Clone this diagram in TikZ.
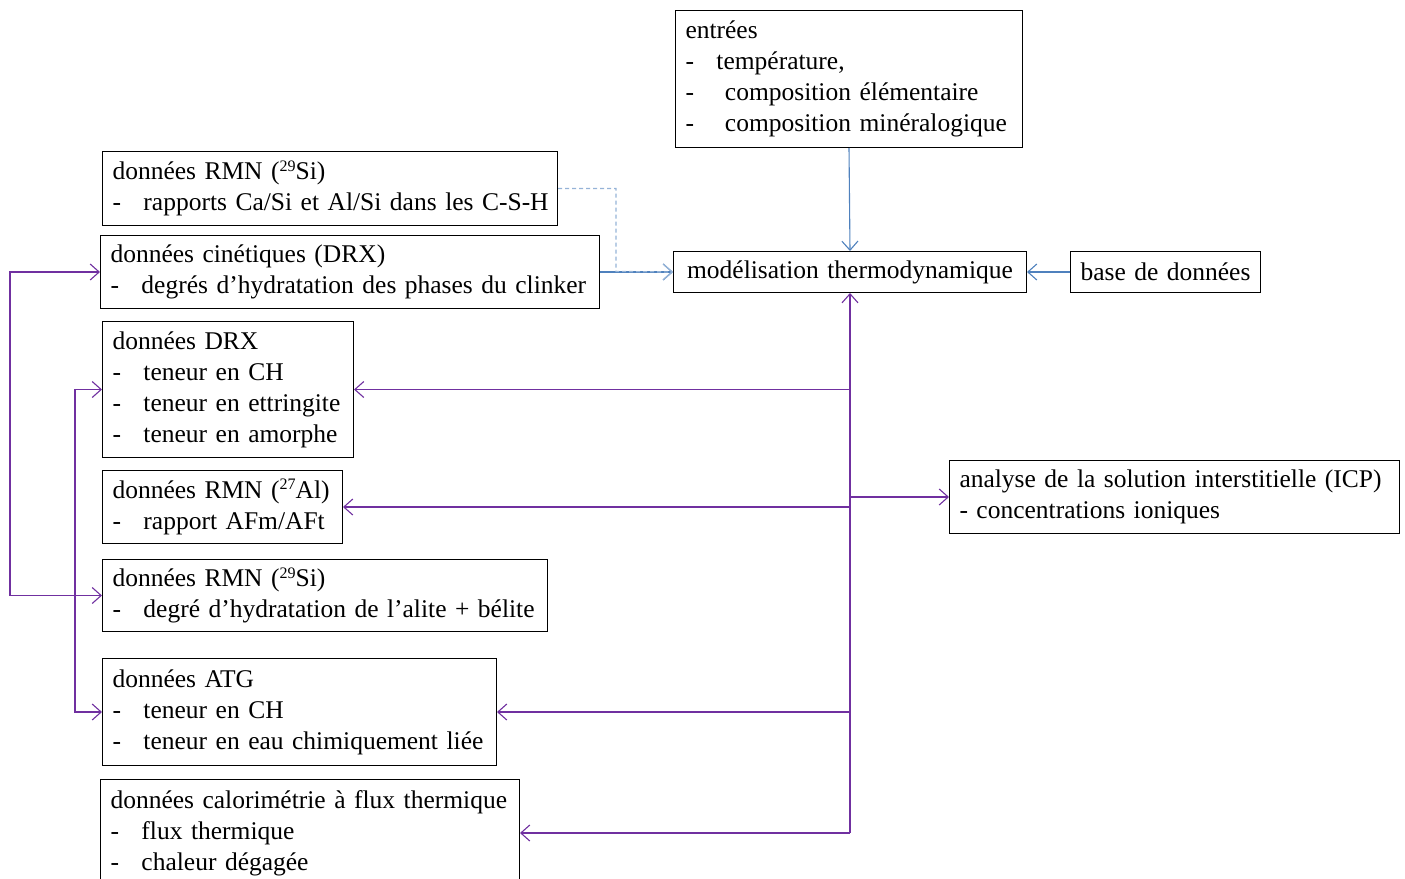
\documentclass[tikz,border=0pt]{standalone}
\usepackage{fontspec}
\setmainfont{Liberation Serif}
\usetikzlibrary{arrows.meta}
\definecolor{bleufleche}{RGB}{79,129,189}
\definecolor{bleuclair}{RGB}{149,179,215}
\definecolor{violetfleche}{RGB}{112,48,160}
\newcommand{\tiret}[1]{\mbox{\makebox[31pt][l]{-}#1}}
\newcommand{\isotope}[1]{\raisebox{0.33em}{\fontsize{16}{16}\selectfont #1}}
\tikzset{
  boite/.style={draw, line width=1pt, anchor=north west, align=left, inner xsep=10pt, inner ysep=0pt,
    font=\fontsize{25.5}{31}\selectfont},
  fleche/.style={-{Straight Barb[length=9pt,width=16pt]}, line width=1.1pt}
}
\begin{document}
\begin{tikzpicture}[x=1pt,y=-1pt]
\useasboundingbox (0,0) rectangle (1405,878);

\node[boite, text width=327pt, minimum height=137pt] (entrees) at (675,10) {entrées\\\tiret{température,}\\\tiret{\ composition élémentaire}\\\tiret{\ composition minéralogique}};
\node[boite, text width=333pt, minimum height=41pt, align=center] (modelisation) at (673,251) {\mbox{modélisation thermodynamique}};
\node[boite, text width=170pt, minimum height=41pt, align=center] (base) at (1070,251) {\mbox{base de données}};

\node[boite, text width=435pt, minimum height=74pt] (rmnsi) at (102,151) {données RMN (\isotope{29}Si)\\\tiret{rapports Ca/Si et Al/Si dans les C-S-H}};
\node[boite, text width=479pt, minimum height=73pt] (cinetiques) at (100,235) {données cinétiques (DRX)\\\tiret{degrés d’hydratation des phases du clinker}};
\node[boite, text width=231pt, minimum height=136pt] (drx) at (102,321) {données DRX\\\tiret{teneur en CH}\\\tiret{teneur en ettringite}\\\tiret{teneur en amorphe}};
\node[boite, text width=220pt, minimum height=73pt] (rmnal) at (102,470) {\mbox{données RMN (\isotope{27}Al)}\\\tiret{rapport AFm/AFt}};
\node[boite, text width=425pt, minimum height=72pt] (rmnsib) at (102,559) {données RMN (\isotope{29}Si)\\\tiret{degré d’hydratation de l’alite + bélite}};
\node[boite, text width=374pt, minimum height=107pt] (atg) at (102,658) {données ATG\\\tiret{teneur en CH}\\\tiret{teneur en eau chimiquement liée}};
\node[boite, text width=399pt, minimum height=107pt] (calo) at (100,779) {\mbox{données calorimétrie à flux thermique}\\\tiret{flux thermique}\\\tiret{chaleur dégagée}};
\node[boite, text width=430pt, minimum height=73pt] (icp) at (949,460) {\mbox{analyse de la solution interstitielle (ICP)}\\\mbox{- concentrations ioniques}};

\coordinate (jonction) at (616,271.5);
\coordinate (boucleA) at (10,0);
\coordinate (boucleB) at (75,0);

% entrees et base vers le modele
\draw[fleche, bleufleche] (entrees.south) -- (modelisation.north);
\draw[fleche, bleufleche] (base.west) -- (modelisation.east);
\draw[fleche, bleufleche] (cinetiques.east) -- (modelisation.west);
\draw[fleche, bleuclair, line width=1.3pt, dash pattern=on 4pt off 3pt] (rmnsi.east) -| (jonction) -- (modelisation.west);

% comparaison modele / donnees
\draw[fleche, violetfleche] (calo.east -| modelisation.south) -- (modelisation.south);
\draw[fleche, violetfleche] (drx.east -| modelisation.south) -- (drx.east);
\draw[fleche, violetfleche] (rmnal.east -| modelisation.south) -- (rmnal.east);
\draw[fleche, violetfleche] (icp.west -| modelisation.south) -- (icp.west);
\draw[fleche, violetfleche] (atg.east -| modelisation.south) -- (atg.east);
\draw[fleche, violetfleche] (calo.east -| modelisation.south) -- (calo.east);

% liens entre donnees
\draw[fleche, violetfleche, {Straight Barb[length=9pt,width=16pt]}-{Straight Barb[length=9pt,width=16pt]}] (cinetiques.west) -- (cinetiques.west -| boucleA) |- (rmnsib.west);
\draw[fleche, violetfleche, {Straight Barb[length=9pt,width=16pt]}-{Straight Barb[length=9pt,width=16pt]}] (drx.west) -- (drx.west -| boucleB) |- (atg.west);

\end{tikzpicture}
\end{document}
